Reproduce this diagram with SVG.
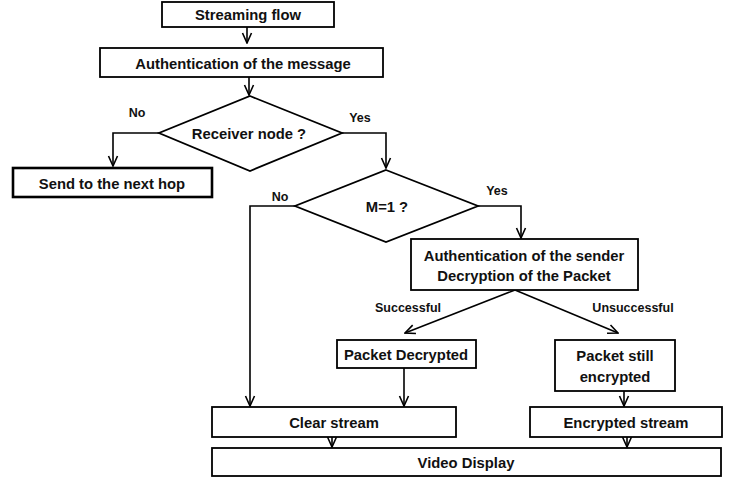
<svg xmlns="http://www.w3.org/2000/svg" width="737" height="489" viewBox="0 0 737 489">
<defs>
<style>
.box{fill:#fff;stroke:#000;stroke-width:1.8}
.thick{stroke-width:2.6}
.t{font-family:"Liberation Sans",Arial,sans-serif;font-weight:bold;font-size:14.8px;fill:#111;text-anchor:middle}
.lbl{font-family:"Liberation Sans",Arial,sans-serif;font-weight:bold;font-size:12.5px;fill:#111;text-anchor:middle}
.c{fill:none;stroke:#000;stroke-width:1.6}
</style>
<marker id="ah" viewBox="0 0 12 12" refX="11" refY="6" markerWidth="12" markerHeight="12" markerUnits="userSpaceOnUse" orient="auto">
<path d="M1,1.5 L11,6 L1,10.5" fill="none" stroke="#000" stroke-width="1.6"/>
</marker>
</defs>
<rect width="737" height="489" fill="#fff"/>
<g id="connectors">
<path class="c" d="M247,27 V43" marker-end="url(#ah)"/>
<path class="c" d="M249,77 V95" marker-end="url(#ah)"/>
<path class="c" d="M159,133 H113 V166" marker-end="url(#ah)"/>
<path class="c" d="M342,133 H386 V168" marker-end="url(#ah)"/>
<path class="c" d="M295,206 H250 V406" marker-end="url(#ah)"/>
<path class="c" d="M478,206 H521 V238" marker-end="url(#ah)"/>
<path class="c" d="M515,290 L405,333" marker-end="url(#ah)"/>
<path class="c" d="M515,290 L618,333" marker-end="url(#ah)"/>
<path class="c" d="M404,368 V406" marker-end="url(#ah)"/>
<path class="c" d="M624,391 V406" marker-end="url(#ah)"/>
<path class="c" d="M332,437 V447" marker-end="url(#ah)"/>
<path class="c" d="M627,437 V447" marker-end="url(#ah)"/>
<text class="lbl" x="137" y="117">No</text>
<text class="lbl" x="360" y="122">Yes</text>
<text class="lbl" x="280" y="201">No</text>
<text class="lbl" x="497" y="195">Yes</text>
<text class="lbl" x="408" y="312">Successful</text>
<text class="lbl" x="633" y="312">Unsuccessful</text>
</g>
<g id="streaming-flow">
<rect class="box" x="162" y="2" width="172" height="25"/>
<text class="t" x="248" y="20">Streaming flow</text>
</g>
<g id="auth-message">
<rect class="box" x="100" y="48" width="283" height="29"/>
<text class="t" x="243" y="68.5">Authentication  of the message</text>
</g>
<g id="receiver-node">
<polygon class="box" points="250,96 342,133 250,171 159,133"/>
<text class="t" x="249" y="138.5">Receiver node  ?</text>
</g>
<g id="next-hop">
<rect class="box thick" x="13" y="168" width="199" height="29"/>
<text class="t" x="112" y="188.5">Send to the next hop</text>
</g>
<g id="m1">
<polygon class="box" points="386,170 478,206 386,242 295,206"/>
<text class="t" x="387" y="211.5">M=1 ?</text>
</g>
<g id="auth-sender">
<rect class="box" x="411" y="239" width="227" height="51"/>
<text class="t" x="524" y="261">Authentication  of the sender</text>
<text class="t" x="524" y="281">Decryption  of the Packet</text>
</g>
<g id="packet-decrypted">
<rect class="box" x="337" y="340" width="139" height="28"/>
<text class="t" x="406" y="359.5">Packet Decrypted</text>
</g>
<g id="packet-encrypted">
<rect class="box" x="555" y="340" width="120" height="51"/>
<text class="t" x="615" y="361">Packet still</text>
<text class="t" x="615" y="382">encrypted</text>
</g>
<g id="clear-stream">
<rect class="box" x="212" y="407" width="244" height="30"/>
<text class="t" x="334" y="427.5">Clear stream</text>
</g>
<g id="encrypted-stream">
<rect class="box" x="530" y="407" width="192" height="30"/>
<text class="t" x="626" y="427.5">Encrypted stream</text>
</g>
<g id="video-display">
<rect class="box" x="212" y="448" width="509" height="28"/>
<text class="t" x="466" y="467.5">Video Display</text>
</g>
</svg>
